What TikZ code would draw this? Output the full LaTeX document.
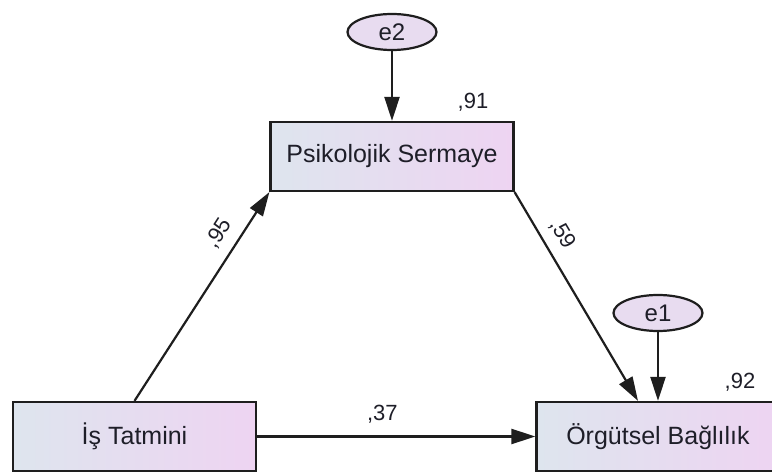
\documentclass[tikz,border=0pt]{standalone}
\usepackage{fontspec}
\setmainfont{Liberation Sans}
\usepackage{tikz}
\usetikzlibrary{shapes.geometric, arrows.meta, positioning}
\definecolor{boxleft}{RGB}{222, 229, 238}
\definecolor{boxright}{RGB}{238, 212, 242}
\definecolor{errfill}{RGB}{232, 220, 240}
\definecolor{edgegray}{RGB}{30, 30, 30}
\definecolor{textgray}{RGB}{30, 30, 40}

\tikzset{
  varbox/.style={draw=edgegray, line width=2.2pt, left color=boxleft, right color=boxright,
    minimum width=243pt, minimum height=69pt, inner sep=0pt, text=textgray,
    font=\fontsize{25}{29}\selectfont},
  errnode/.style={ellipse, draw=edgegray, line width=2.2pt, fill=errfill,
    minimum width=89pt, minimum height=36pt, inner sep=0pt, text=textgray,
    font=\fontsize{24}{28}\selectfont},
  coef/.style={text=textgray, font=\fontsize{22}{26}\selectfont, inner sep=2pt},
  path/.style={line width=2.2pt, draw=edgegray, -{Triangle[length=24pt, width=15pt]}}
}

\begin{document}
\begin{tikzpicture}[x=1pt, y=-1pt]
  \useasboundingbox (0,0) rectangle (772,473);

  % observed variables
  \node[varbox] (psi) at (392, 156.5) {Psikolojik Sermaye};
  \node[varbox] (is) at (134.5, 436.5) {İş Tatmini};
  \node[varbox] (org) at (658, 436.5) {Örgütsel Bağlılık};

  % error terms
  \node[errnode] (e2) at (392, 32) {e2};
  \node[errnode] (e1) at (658, 313) {e1};

  % squared multiple correlations
  \node[coef] (r91) at (473, 102) {,91};
  \node[coef] (r92) at (740, 382) {,92};

  % paths
  \coordinate (orgin) at ([xshift=-20pt]org.north);
  \draw[path] (e2) -- (psi.north);
  \draw[path] (e1) -- (org.north);
  \draw[path] (is.north) -- node[coef, pos=0.75, sloped, above=8pt] (p95) {,95} (psi.south west);
  \draw[path] (psi.south east) -- node[coef, pos=0.25, sloped, above=8pt] (p59) {,59} (orgin);
  \draw[path] (is.east) -- node[coef, pos=0.45, above=10pt] (p37) {,37} (org.west);
\end{tikzpicture}
\end{document}
